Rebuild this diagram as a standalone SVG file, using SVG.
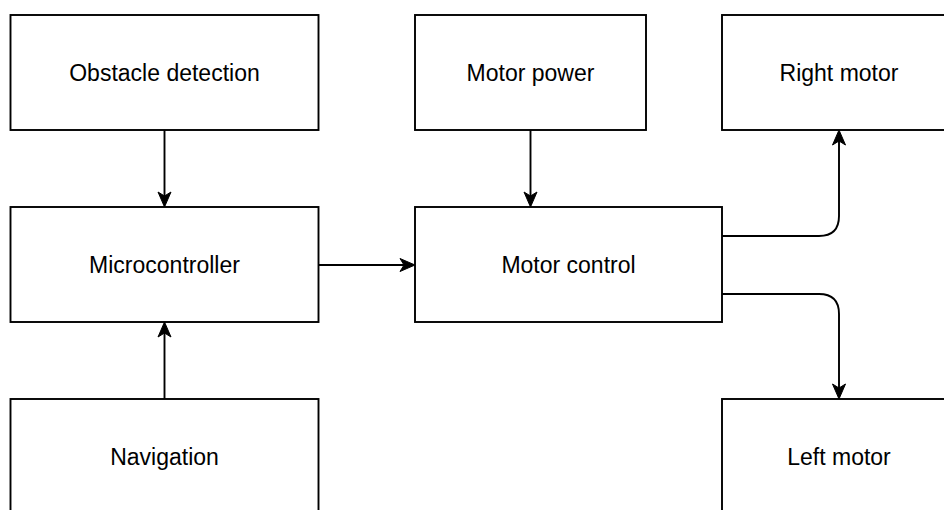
<svg xmlns="http://www.w3.org/2000/svg" width="944" height="510" viewBox="0 0 944 510">
<style>
.box{fill:#fff;stroke:#000;stroke-width:1.9}
.lbl{font-family:"Liberation Sans",Arial,Helvetica,sans-serif;font-size:23px;fill:#000;text-anchor:middle}
.edge{fill:none;stroke:#000;stroke-width:1.9}
</style>
<defs>
<marker id="arr" markerUnits="userSpaceOnUse" markerWidth="30" markerHeight="30" viewBox="-10 -15 30 30" refX="0" refY="0" orient="auto">
<path d="M11,0 L-4,-6.5 L0,0 L-4,6.5 Z" fill="#000" stroke="#000" stroke-width="1"/>
</marker>
</defs>
<rect width="944" height="510" fill="#fff"/>
<g id="connectors">
<path class="edge" d="M164.5,130 L164.5,196" marker-end="url(#arr)"/>
<path class="edge" d="M164.5,399 L164.5,333" marker-end="url(#arr)"/>
<path class="edge" d="M318.5,265 L404,265" marker-end="url(#arr)"/>
<path class="edge" d="M530.5,130 L530.5,196" marker-end="url(#arr)"/>
<path class="edge" d="M722,236 L819,236 Q839,236 839,216 L839,141" marker-end="url(#arr)"/>
<path class="edge" d="M722,294 L819,294 Q839,294 839,314 L839,388" marker-end="url(#arr)"/>
</g>
<g id="obstacle">
<rect class="box" x="10.5" y="15" width="308" height="115"/>
<text class="lbl" x="164.5" y="80.5">Obstacle detection</text>
</g>
<g id="microcontroller">
<rect class="box" x="10.5" y="207" width="308" height="115"/>
<text class="lbl" x="164.5" y="272.5">Microcontroller</text>
</g>
<g id="navigation">
<rect class="box" x="10.5" y="399" width="308" height="115"/>
<text class="lbl" x="164.5" y="464.5">Navigation</text>
</g>
<g id="motorpower">
<rect class="box" x="415" y="15" width="231" height="115"/>
<text class="lbl" x="530.5" y="80.5">Motor power</text>
</g>
<g id="motorcontrol">
<rect class="box" x="415" y="207" width="307" height="115"/>
<text class="lbl" x="568.5" y="272.5">Motor control</text>
</g>
<g id="rightmotor">
<rect class="box" x="722" y="15" width="234" height="115"/>
<text class="lbl" x="839" y="80.5">Right motor</text>
</g>
<g id="leftmotor">
<rect class="box" x="722" y="399" width="234" height="115"/>
<text class="lbl" x="839" y="464.5">Left motor</text>
</g>
</svg>
